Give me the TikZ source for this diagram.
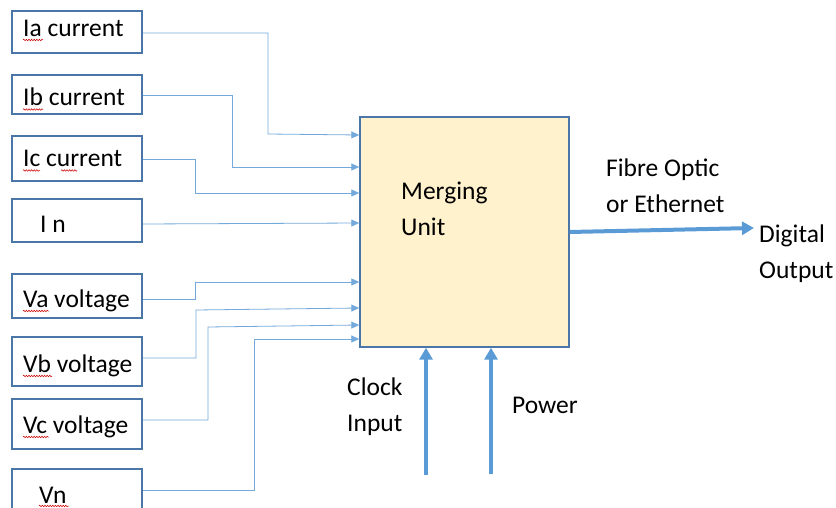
\documentclass[tikz,border=0pt]{standalone}
\usepackage{fontspec}
\setmainfont{Carlito}
\usetikzlibrary{arrows.meta,decorations.pathmorphing}
\definecolor{boxline}{HTML}{4A76A8}
\definecolor{wire}{HTML}{5B9BD5}
\definecolor{unitfill}{HTML}{FFF2CC}
\tikzset{
  inbox/.style={draw=boxline, line width=1.6pt, fill=white, minimum width=130pt, inner sep=0pt},
  label/.style={anchor=base west, inner sep=0pt, font=\fontsize{25.5}{35}\selectfont},
  wirethin/.style={draw=wire!85, line width=0.8pt, -{Triangle[length=8pt,width=7pt]}},
  wirebold/.style={draw=wire, line width=4pt, -{Triangle[length=12pt,width=13pt]}},
  squiggle/.style={draw=red!80!black, line width=0.5pt, decorate,
    decoration={snake, amplitude=0.8pt, segment length=2.6pt}},
}
\begin{document}
\begin{tikzpicture}[x=1pt,y=-1pt]
\useasboundingbox (0,0) rectangle (836,508);
\begin{scope}
\clip (0,0) rectangle (836,508);

% input boxes
\node[inbox, minimum height=42pt] (ia) at (77,32) {};
\node[inbox, minimum height=39pt] (ib) at (77,94.5) {};
\node[inbox, minimum height=45pt] (ic) at (77,158.5) {};
\node[inbox, minimum height=43pt] (in) at (77,220.5) {};
\node[inbox, minimum height=44pt] (va) at (77,296) {};
\node[inbox, minimum height=49pt] (vb) at (77,361.5) {};
\node[inbox, minimum height=50pt] (vc) at (77,424) {};
\node[inbox, minimum height=60pt] (vn) at (77,499) {};

% box texts
\node[label] (ia-t) at (23,37) {Ia current};
\node[label] (ib-t) at (23,106) {Ib current};
\node[label] (ic-t) at (23,167) {Ic current};
\node[label] (in-t) at (40,233) {I n};
\node[label] (va-t) at (23,307) {Va voltage};
\node[label] (vb-t) at (23,372) {Vb voltage};
\node[label] (vc-t) at (23,433) {Vc voltage};
\node[label] (vn-t) at (39,503) {Vn};

% spell-check underlines
\draw[squiggle] (23,40) -- (43,40);
\draw[squiggle] (23,109.5) -- (43,109.5);
\draw[squiggle] (23,170.5) -- (40,170.5);
\draw[squiggle] (61,170.5) -- (77,170.5);
\draw[squiggle] (23,311) -- (49,311);
\draw[squiggle] (23,376) -- (52,376);
\draw[squiggle] (23,437) -- (49,437);
\draw[squiggle] (39,506) -- (69,506);

% merging unit
\node[draw=boxline, line width=1.4pt, fill=unitfill, minimum width=209pt,
      minimum height=230pt, inner sep=0pt] (mu) at (464.5,232) {};
\node[label] (mu-t1) at (401,200) {Merging};
\node[label] (mu-t2) at (401,235) {Unit};

% junction points of the input wires
\coordinate (ja) at (268,33);
\coordinate (jb) at (232,95);
\coordinate (jc) at (195,159);
\coordinate (jva) at (195,299);
\coordinate (jvb) at (196,358);
\coordinate (jvc) at (208,420);
\coordinate (jvn) at (254,490);

\draw[wirethin] (ia.east |- ja) -- (ja) -- (ja |- 0,134) -- (mu.west |- 0,135);
\draw[wirethin] (ib.east |- jb) -- (jb) -- (jb |- 0,167) -- (mu.west |- 0,167);
\draw[wirethin] (ic.east |- jc) -- (jc) -- (jc |- 0,193) -- (mu.west |- 0,193);
\draw[wirethin] (in.east |- 0,224) -- (mu.west |- 0,223);
\draw[wirethin] (va.east |- jva) -- (jva) -- (jva |- 0,282) -- (mu.west |- 0,282);
\draw[wirethin] (vb.east |- jvb) -- (jvb) -- (jvb |- 0,310) -- (mu.west |- 0,308);
\draw[wirethin] (vc.east |- jvc) -- (jvc) -- (jvc |- 0,327) -- (mu.west |- 0,325);
\draw[wirethin] (vn.east |- jvn) -- (jvn) -- (jvn |- 0,339) -- (mu.west |- 0,339);

% output
\node[label] (fo1) at (606,177) {Fibre Optic};
\node[label] (fo2) at (606,212) {or Ethernet};
\node[label] (do1) at (759,243) {Digital};
\node[label] (do2) at (759,278) {Output};
\coordinate (out) at (754,228);
\draw[wirebold] (mu.east |- 0,232) -- (out);

% clock and power
\coordinate (clk) at (426,475);
\coordinate (pwr) at (491,474);
\draw[wirebold] (clk) -- (clk |- mu.south);
\draw[wirebold] (pwr) -- (pwr |- mu.south);
\node[label] (ck1) at (347,395) {Clock};
\node[label] (ck2) at (347,431) {Input};
\node[label] (pw) at (512,413) {Power};
\end{scope}
\end{tikzpicture}
\end{document}
